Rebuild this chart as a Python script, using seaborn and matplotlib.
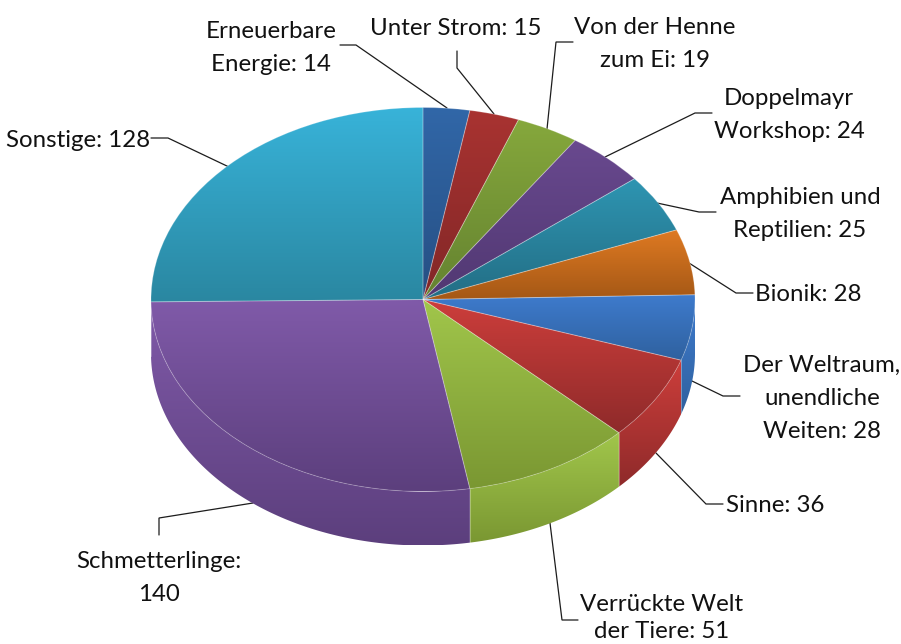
import numpy as np
import matplotlib
matplotlib.use("Agg")
import matplotlib.pyplot as plt
from matplotlib.patches import Polygon
import seaborn as sns

# ---- data ----
names = ["Erneuerbare\nEnergie", "Unter Strom", "Von der Henne\nzum Ei", "Doppelmayr\nWorkshop",
         "Amphibien und\nReptilien", "Bionik", "Der Weltraum,\nunendliche\nWeiten", "Sinne",
         "Verrückte Welt\nder Tiere", "Schmetterlinge", "Sonstige"]
values = [14, 15, 19, 24, 25, 28, 28, 36, 51, 140, 128]
separators = [" ", " ", " ", " ", " ", " ", " ", " ", " ", "\n", " "]
top_colors = ['#3167A8', '#A93331', '#86A83C', '#69498F', '#2E95B2', '#DF7A22',
              '#3E7BCD', '#CD3E3B', '#A1C64B', '#805AA9', '#38B3D9']
bottom_colors = ['#264F83', '#822727', '#648230', '#513872', '#236E85', '#A55816',
                 '#2F619F', '#8E2A2A', '#7A9732', '#5C3F7D', '#2A87A1']

# ---- layout (pixels) ----
W, H = 901, 644
CX, CY, RX, RY, DEPTH = 423.0, 299.5, 272.0, 192.0, 54.0
label_pos = [(271, 71), (456, 35), (655, 67), (789, 138), (800, 237), (808, 301),
             (822, 438), (775, 512), (662, 638), (159, 601), (78, 147)]
label_spacing = [1.7, 1.7, 1.7, 1.7, 1.7, 1.7, 1.7, 1.7, 1.35, 1.7, 1.7]
leaders = [
    [(340, 45), (356, 45), (447, 108)],
    [(457, 51), (457, 68), (494, 114)],
    [(573, 42), (556, 42), (547, 129)],
    [(712, 113), (695, 113), (605, 157)],
    [(716, 212), (699, 212), (657, 203)],
    [(753, 293), (736, 293), (689, 263)],
    [(740, 396), (723, 396), (692, 381)],
    [(723, 504), (706, 504), (656, 453)],
    [(578, 620), (562, 620), (550, 523)],
    [(159, 535), (159, 518), (253, 503)],
    [(151, 138), (168, 138), (229, 167)],
]


def dx(px):
    return (np.asarray(px, float) - CX) / RX


def dy(py):
    return (CY - np.asarray(py, float)) / RY


sns.set_theme(style="white")
plt.rcParams['font.family'] = ['Lato', 'DejaVu Sans']
fig = plt.figure(figsize=(W / 100, H / 100), dpi=100)
ax = fig.add_axes([0, 0, 1, 1])
wedges, _ = ax.pie(values, startangle=90, counterclock=False, radius=1.0)
ax.set_aspect('auto')


def gradient(patch, top, bottom, z):
    ext = patch.get_path().get_extents()
    cmap = sns.blend_palette([top, bottom], as_cmap=True)
    im = ax.imshow(np.linspace(0, 1, 256)[:, None], cmap=cmap, aspect='auto', origin='upper',
                   extent=(ext.x0, ext.x1, ext.y0, ext.y1), zorder=z, interpolation='bilinear')
    im.set_clip_path(patch)


fractions = np.cumsum([0] + values) / sum(values) * 2 * np.pi
depth = DEPTH / RY
for i, wedge in enumerate(wedges):
    a0, a1 = max(fractions[i], np.pi / 2), min(fractions[i + 1], 3 * np.pi / 2)
    if a1 > a0:
        t = np.linspace(a0, a1, 120)
        x, y = np.sin(t), np.cos(t)
        wall = Polygon(np.r_[np.c_[x, y], np.c_[x, y - depth][::-1]], closed=True,
                       facecolor='none', edgecolor='none', zorder=1)
        ax.add_patch(wall)
        gradient(wall, top_colors[i], bottom_colors[i], 1)
        if fractions[i] > np.pi / 2:
            ax.plot([x[0], x[0]], [y[0], y[0] - depth], color='white', alpha=0.3, lw=0.7, zorder=1.5)
    gradient(wedge, top_colors[i], bottom_colors[i], 2)
    wedge.set_facecolor('none')
    wedge.set_edgecolor((1, 1, 1, 0.22))
    wedge.set_linewidth(0.7)
    wedge.set_zorder(3)

for pts in leaders:
    p = np.array(pts)
    ax.plot(dx(p[:, 0]), dy(p[:, 1]), color='#1c1c1c', lw=0.9, zorder=0.5, clip_on=False,
            solid_joinstyle='miter')

for name, v, sep, ls, (px, py) in zip(names, values, separators, label_spacing, label_pos):
    ax.text(dx(px), dy(py), f"{name}:{sep}{v}", ha='center', va='baseline', ma='center',
            fontsize=17.3, color='#111111', linespacing=ls)

ax.set_xlim(dx(0), dx(W))
ax.set_ylim(dy(H), dy(0))
ax.axis('off')
fig.savefig("out.png", dpi=100, facecolor='white')
